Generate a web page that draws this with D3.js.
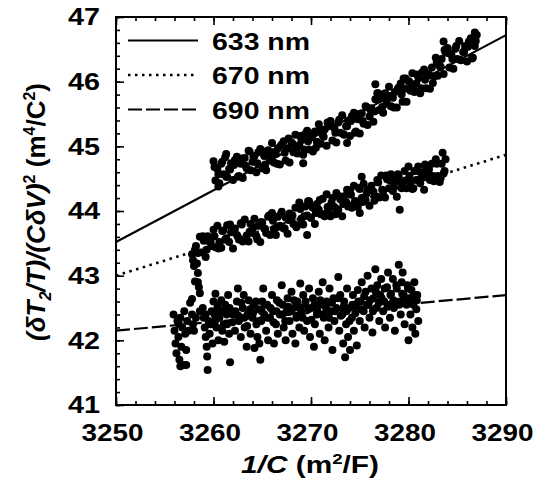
<!DOCTYPE html>
<html>
<head>
<meta charset="utf-8">
<script src="https://cdn.jsdelivr.net/npm/d3@7"></script>
<style>
  html, body { margin: 0; padding: 0; background: #fff; overflow: hidden; }
  svg { display: block; }
  text { font-family: "Liberation Sans", Arial, sans-serif; font-weight: bold; fill: #000; }
</style>
</head>
<body>
<div id="chart"></div>
<script>
// Data
const xTicks = [3250, 3260, 3270, 3280, 3290];
const yTicks = [41, 42, 43, 44, 45, 46, 47];
const legendLabels = ["633 nm", "670 nm", "690 nm"];

const fit633 = [[3250, 43.52], [3290, 46.72]];
const fit670 = [[3250, 43.0], [3290, 44.87]];
const fit690 = [[3250, 42.15], [3290, 42.70]];

const pts633 = [
[3260.0,44.77],[3260.2,44.47],[3260.4,44.65],[3260.6,44.43],[3260.8,44.73],[3261.0,44.57],[3261.2,44.83],[3261.4,44.53],
[3261.6,44.65],[3261.8,44.74],[3262.0,44.48],[3262.2,44.79],[3262.4,44.84],[3262.6,44.54],[3262.8,44.73],[3263.0,44.51],
[3263.2,44.82],[3263.4,44.66],[3263.6,44.93],[3263.8,44.63],[3264.0,44.76],[3264.2,44.85],[3264.4,44.60],[3264.6,44.91],
[3264.8,44.96],[3265.0,44.66],[3265.2,44.85],[3265.4,44.63],[3265.6,44.94],[3265.8,44.78],[3266.0,45.05],[3266.2,44.75],
[3266.4,44.88],[3266.6,44.97],[3266.8,44.72],[3267.0,45.03],[3267.2,45.08],[3267.4,44.78],[3267.6,44.97],[3267.8,44.75],
[3268.0,45.06],[3268.2,44.91],[3268.4,45.18],[3268.6,44.89],[3268.8,45.02],[3269.0,45.12],[3269.2,44.87],[3269.4,45.19],
[3269.6,45.24],[3269.8,44.95],[3270.0,45.14],[3270.2,44.92],[3270.4,45.23],[3270.6,45.07],[3270.8,45.34],[3271.0,45.04],
[3271.2,45.17],[3271.4,45.26],[3271.6,45.01],[3271.8,45.32],[3272.0,45.39],[3272.2,45.09],[3272.4,45.28],[3272.6,45.06],
[3272.8,45.37],[3273.0,45.21],[3273.2,45.48],[3273.4,45.18],[3273.6,45.31],[3273.8,45.40],[3274.0,45.16],[3274.2,45.47],
[3274.4,45.52],[3274.6,45.23],[3274.8,45.42],[3275.0,45.20],[3275.2,45.51],[3275.4,45.35],[3275.6,45.62],[3275.8,45.33],
[3276.0,45.46],[3276.2,45.59],[3276.4,45.38],[3276.6,45.73],[3276.8,45.82],[3277.0,45.56],[3277.2,45.74],[3277.4,45.52],
[3277.6,45.82],[3277.8,45.66],[3278.0,45.92],[3278.2,45.62],[3278.4,45.75],[3278.6,45.84],[3278.8,45.60],[3279.0,45.91],
[3279.2,45.97],[3279.4,45.69],[3279.6,45.89],[3279.8,45.69],[3280.0,46.01],[3280.2,45.86],[3280.4,46.13],[3280.6,45.84],
[3280.8,45.97],[3281.0,46.07],[3281.2,45.82],[3281.4,46.14],[3281.6,46.19],[3281.8,45.90],[3282.0,46.09],[3282.2,45.89],
[3282.4,46.22],[3282.6,46.08],[3282.8,46.37],[3283.0,46.09],[3283.2,46.24],[3283.4,46.35],[3283.6,46.12],[3283.8,46.45],
[3284.0,46.52],[3284.2,46.22],[3284.4,46.42],[3284.6,46.20],[3284.8,46.51],[3285.0,46.35],[3285.2,46.63],[3285.4,46.33],
[3285.6,46.46],[3285.8,46.55],[3286.0,46.31],[3286.2,46.62],[3286.4,46.67],[3286.6,46.37],[3286.8,46.55],[3287.0,46.72],
[3276.6,45.96],[3286.8,46.76],[3283.6,46.62],[3269.2,44.74],[3273.7,45.05],[3260.5,44.38],[3261.3,44.88],[3279.5,46.05],
[3260.1,44.68],[3260.5,44.57],[3260.9,44.76],[3261.3,44.53],[3261.7,44.64],[3262.1,44.71],[3262.5,44.53],[3262.9,44.81],
[3263.3,44.70],[3263.7,44.92],[3264.1,44.84],[3264.5,44.74],[3264.9,44.94],[3265.3,44.72],[3265.7,44.84],[3266.1,44.91],
[3266.5,44.73],[3266.9,45.01],[3267.3,44.90],[3267.7,45.12],[3268.1,45.04],[3268.5,44.95],[3268.9,45.16],[3269.3,44.95],
[3269.7,45.08],[3270.1,45.16],[3270.5,44.98],[3270.9,45.26],[3271.3,45.15],[3271.7,45.37],[3272.1,45.31],[3272.5,45.21],
[3272.9,45.41],[3273.3,45.19],[3273.7,45.31],[3274.1,45.39],[3274.5,45.21],[3274.9,45.50],[3275.3,45.39],[3275.7,45.61],
[3276.1,45.56],[3276.5,45.54],[3276.9,45.82],[3277.3,45.61],[3277.7,45.72],[3278.1,45.78],[3278.5,45.60],[3278.9,45.89],
[3279.3,45.80],[3279.7,46.05],[3280.1,45.99],[3280.5,45.90],[3280.9,46.11],[3281.3,45.90],[3281.7,46.03],[3282.1,46.12],
[3282.5,45.98],[3282.9,46.30],[3283.3,46.23],[3283.7,46.49],[3284.1,46.44],[3284.5,46.35],[3284.9,46.55],[3285.3,46.34],
[3285.7,46.46],[3286.1,46.54],[3286.5,46.36],[3286.9,46.63]
];

const pts670 = [
[3257.8,43.33],[3258.0,43.15],[3258.2,43.46],[3258.4,43.35],[3258.6,43.60],[3258.8,43.36],[3259.0,43.54],[3259.2,43.29],
[3259.4,43.61],[3259.6,43.52],[3259.8,43.46],[3260.0,43.71],[3260.2,43.44],[3260.4,43.77],[3260.6,43.52],[3260.8,43.43],
[3261.0,43.70],[3261.2,43.56],[3261.4,43.78],[3261.6,43.52],[3261.8,43.67],[3262.0,43.42],[3262.2,43.73],[3262.4,43.63],
[3262.6,43.56],[3262.8,43.81],[3263.0,43.53],[3263.2,43.87],[3263.4,43.62],[3263.6,43.53],[3263.8,43.80],[3264.0,43.66],
[3264.2,43.88],[3264.4,43.61],[3264.6,43.77],[3264.8,43.52],[3265.0,43.82],[3265.2,43.73],[3265.4,43.66],[3265.6,43.91],
[3265.8,43.63],[3266.0,43.97],[3266.2,43.72],[3266.4,43.63],[3266.6,43.91],[3266.8,43.77],[3267.0,43.99],[3267.2,43.73],
[3267.4,43.90],[3267.6,43.65],[3267.8,43.96],[3268.0,43.87],[3268.2,43.80],[3268.4,44.05],[3268.6,43.78],[3268.8,44.13],
[3269.0,43.88],[3269.2,43.79],[3269.4,44.07],[3269.6,43.93],[3269.8,44.15],[3270.0,43.89],[3270.2,44.05],[3270.4,43.80],
[3270.6,44.11],[3270.8,44.02],[3271.0,43.95],[3271.2,44.19],[3271.4,43.92],[3271.6,44.26],[3271.8,44.01],[3272.0,43.92],
[3272.2,44.20],[3272.4,44.06],[3272.6,44.28],[3272.8,44.02],[3273.0,44.18],[3273.2,43.92],[3273.4,44.23],[3273.6,44.14],
[3273.8,44.07],[3274.0,44.32],[3274.2,44.05],[3274.4,44.39],[3274.6,44.15],[3274.8,44.06],[3275.0,44.34],[3275.2,44.20],
[3275.4,44.42],[3275.6,44.17],[3275.8,44.33],[3276.0,44.08],[3276.2,44.39],[3276.4,44.30],[3276.6,44.23],[3276.8,44.48],
[3277.0,44.21],[3277.2,44.55],[3277.4,44.30],[3277.6,44.21],[3277.8,44.49],[3278.0,44.35],[3278.2,44.57],[3278.4,44.31],
[3278.6,44.47],[3278.8,44.22],[3279.0,44.53],[3279.2,44.44],[3279.4,44.37],[3279.6,44.62],[3279.8,44.35],[3280.0,44.69],
[3280.2,44.44],[3280.4,44.34],[3280.6,44.62],[3280.8,44.48],[3281.0,44.69],[3281.2,44.43],[3281.4,44.59],[3281.6,44.33],
[3281.8,44.64],[3282.0,44.55],[3282.2,44.48],[3282.4,44.73],[3282.6,44.46],[3282.8,44.80],[3283.0,44.54],[3283.2,44.45],
[3283.4,44.73],[3283.6,44.58],[3283.8,44.80],[3283.5,44.90],[3275.2,44.53],[3279.1,44.02],[3275.0,43.97],[3269.6,43.63],
[3257.9,43.24],[3258.3,43.19],[3258.4,43.04],[3258.1,42.91],[3258.4,42.90],[3258.6,42.73],[3258.5,42.82],
[3258.1,43.40],[3258.5,43.36],[3258.9,43.61],[3259.3,43.40],[3259.7,43.53],[3260.1,43.61],[3260.5,43.42],[3260.9,43.69],
[3261.3,43.58],[3261.7,43.79],[3262.1,43.71],[3262.5,43.60],[3262.9,43.79],[3263.3,43.57],[3263.7,43.68],[3264.1,43.75],
[3264.5,43.56],[3264.9,43.83],[3265.3,43.72],[3265.7,43.93],[3266.1,43.85],[3266.5,43.75],[3266.9,43.95],[3267.3,43.73],
[3267.7,43.86],[3268.1,43.93],[3268.5,43.75],[3268.9,44.03],[3269.3,43.92],[3269.7,44.15],[3270.1,44.07],[3270.5,43.97],
[3270.9,44.17],[3271.3,43.94],[3271.7,44.06],[3272.1,44.13],[3272.5,43.95],[3272.9,44.23],[3273.3,44.11],[3273.7,44.33],
[3274.1,44.25],[3274.5,44.15],[3274.9,44.36],[3275.3,44.14],[3275.7,44.27],[3276.1,44.34],[3276.5,44.16],[3276.9,44.44],
[3277.3,44.33],[3277.7,44.55],[3278.1,44.47],[3278.5,44.37],[3278.9,44.57],[3279.3,44.35],[3279.7,44.47],[3280.1,44.54],
[3280.5,44.35],[3280.9,44.62],[3281.3,44.51],[3281.7,44.72],[3282.1,44.64],[3282.5,44.54],[3282.9,44.73],[3283.3,44.51],
[3283.7,44.62]
];

const pts690 = [
[3255.9,42.40],[3256.0,42.15],[3256.1,41.95],[3256.2,41.80],[3256.3,42.30],[3256.4,42.05],[3256.5,41.70],[3256.6,42.35],
[3256.7,41.90],[3256.8,42.20],[3256.9,41.62],[3257.0,42.45],[3257.1,42.10],[3257.2,41.85],[3257.3,42.30],[3256.6,41.60],
[3257.2,41.62],[3257.6,42.58],[3257.8,42.40],[3257.9,42.25],[3258.0,42.15],[3258.2,42.35],[3257.8,42.64],
[3258.9,42.50],[3259.0,42.35],[3259.1,42.20],[3259.2,42.05],[3259.3,41.90],[3259.35,41.75],[3259.4,41.54],[3259.5,42.30],
[3259.6,42.10],[3259.8,42.45],[3259.9,41.95],
[3260.0,42.60],[3260.1,42.40],[3260.2,42.72],[3260.3,42.20],[3260.4,42.50],[3260.5,42.00],[3260.6,42.35],[3260.8,42.62],
[3260.9,42.15],[3261.0,42.45],[3261.1,41.98],[3261.2,42.55],[3261.4,42.25],[3261.5,42.70],[3261.6,42.10],[3261.7,41.66],
[3262.0,42.40],[3262.2,42.15],[3262.4,42.60],[3262.5,42.80],[3262.6,42.30],[3262.8,42.05],[3263.0,42.50],[3263.1,42.70],
[3263.2,42.20],[3263.4,41.90],[3263.5,42.40],[3263.6,42.62],[3263.8,42.10],[3264.0,42.35],[3264.1,42.55],[3264.2,41.88],
[3264.4,42.25],[3264.5,42.05],[3264.6,42.48],[3264.8,41.70],[3264.7,41.95],[3264.9,42.30],
[3265.0,42.60],[3265.1,42.80],[3265.2,42.40],[3265.4,42.15],[3265.5,42.55],[3265.6,42.00],[3265.8,42.35],[3266.0,42.70],
[3266.1,42.45],[3266.2,41.95],[3266.4,42.25],[3266.5,42.62],[3266.6,42.10],[3266.8,42.40],[3267.0,42.85],[3267.1,42.55],
[3267.2,42.20],[3267.4,42.00],[3267.5,42.45],[3267.6,42.65],[3267.8,42.30],[3268.0,42.75],[3268.1,42.10],[3268.2,42.50],
[3268.4,41.95],[3268.5,42.35],[3268.6,42.60],[3268.8,42.20],[3268.9,42.88],
[3269.0,42.45],[3269.2,42.70],[3269.3,42.15],[3269.4,42.55],[3269.6,42.30],[3269.8,42.80],[3269.9,42.05],[3270.0,42.50],
[3270.2,42.65],[3270.3,41.90],[3270.4,42.25],[3270.6,42.40],[3270.8,42.75],[3270.9,42.10],[3271.0,42.55],[3271.2,42.90],
[3271.3,42.35],[3271.4,42.00],[3271.6,42.60],[3271.8,42.20],[3271.9,42.80],[3272.0,42.45],[3272.2,41.85],[3272.3,42.65],
[3272.4,42.30],[3272.6,42.50],[3272.8,42.98],[3272.9,42.15],[3273.0,42.70],
[3273.2,42.40],[3273.3,41.95],[3273.4,42.60],[3273.5,41.74],[3273.6,42.25],[3273.7,42.80],[3273.8,42.05],[3273.9,42.50],
[3274.0,41.85],[3274.2,42.35],[3274.3,42.70],[3274.4,42.15],[3274.6,42.55],[3274.7,41.92],[3274.8,42.78],[3275.0,42.30],
[3275.1,42.60],[3275.2,42.90],[3275.4,42.45],[3275.5,42.20],[3275.6,42.75],[3275.8,43.00],[3275.9,42.55],[3276.0,42.35],
[3276.2,42.80],[3276.3,42.12],[3276.4,42.65],[3276.6,43.10],[3276.7,42.50],[3276.8,42.85],[3277.0,42.30],[3277.1,42.70],
[3277.2,42.95],[3277.4,42.45],[3277.5,42.60],[3277.6,42.20],[3277.8,42.82],[3277.9,43.05],[3278.0,42.55],
[3278.1,42.35],[3278.2,42.72],[3278.4,42.95],[3278.5,42.50],[3278.6,42.15],[3278.8,42.80],[3279.0,43.17],[3279.1,42.60],
[3279.2,42.40],[3279.3,42.90],[3279.4,43.05],[3279.5,42.70],[3279.6,42.25],[3279.8,42.55],[3279.9,42.85],[3280.0,42.00],
[3280.1,42.65],[3280.2,42.40],[3280.3,42.78],[3280.4,42.20],[3280.5,42.55],[3280.6,42.90],[3280.7,42.10],[3280.8,42.48],
[3280.9,42.70],[3281.0,42.30],
[3260.15,42.30],[3260.45,42.55],[3260.75,42.45],[3261.05,42.25],[3261.35,42.40],[3261.65,42.50],[3261.95,42.28],[3262.25,42.45],
[3262.55,42.38],[3262.85,42.58],[3263.15,42.35],[3263.45,42.22],[3263.75,42.48],[3264.05,42.42],[3264.35,42.60],[3264.65,42.30],
[3264.95,42.45],[3265.25,42.55],[3265.55,42.35],[3265.85,42.50],[3266.15,42.28],[3266.45,42.45],[3266.75,42.58],[3267.05,42.40],
[3267.35,42.30],[3267.65,42.52],[3267.95,42.45],[3268.25,42.62],[3268.55,42.38],[3268.85,42.50],[3269.15,42.35],[3269.45,42.60],
[3269.75,42.48],[3270.05,42.32],[3270.35,42.55],[3270.65,42.45],[3270.95,42.62],[3271.25,42.40],[3271.55,42.50],[3271.85,42.35],
[3272.15,42.58],[3272.45,42.45],[3272.75,42.65],[3273.05,42.38],[3273.35,42.52],[3273.65,42.45],[3273.95,42.30],[3274.25,42.55],
[3274.55,42.42],[3274.85,42.60],[3275.15,42.48],[3275.45,42.68],[3275.75,42.55],[3276.05,42.62],[3276.35,42.45],[3276.65,42.75],
[3276.95,42.58],[3277.25,42.65],[3277.55,42.80],[3277.85,42.52],[3278.15,42.70],[3278.45,42.62],[3278.75,42.85],[3279.05,42.55],
[3279.35,42.72],[3279.65,42.65],[3279.95,42.80],[3280.25,42.58],[3280.55,42.70],[3280.85,42.62],[3257.45,42.15],[3256.45,42.25],
[3258.6,42.45],[3259.2,42.40],[3259.7,42.25]
];

// Layout
const w = 538;
const h = 501;
const margin = {top: 17, right: 32, bottom: 96, left: 116};
const innerWidth = w - margin.left - margin.right;
const innerHeight = h - margin.top - margin.bottom;

const xScale = d3.scaleLinear()
    .domain([3250, 3290])
    .range([0, innerWidth]);

const yScale = d3.scaleLinear()
    .domain([41, 47])
    .range([innerHeight, 0]);

const svg = d3.select("div#chart")
  .append("svg")
    .attr("width", w)
    .attr("height", h);

const plot = svg.append("g")
    .attr("transform", `translate(${margin.left}, ${margin.top})`);

// minor ticks (inward), bottom/top every 2, left every 0.2
const xMinor = d3.range(3250, 3291, 2);
const yMinor = d3.range(0, 31).map(i => 41 + i * 0.2);

plot.append("g")
    .attr("transform", `translate(0, ${innerHeight})`)
    .call(d3.axisBottom(xScale).tickValues(xMinor).tickSize(-4).tickFormat(""));
plot.append("g")
    .call(d3.axisTop(xScale).tickValues(xMinor).tickSize(-4).tickFormat(""));
plot.append("g")
    .call(d3.axisLeft(yScale).tickValues(yMinor).tickSize(-4).tickFormat(""));
plot.selectAll(".tick text").remove();

// major ticks + labels
const xAxis = plot.append("g")
    .attr("class", "xAxis")
    .attr("transform", `translate(0, ${innerHeight})`)
    .call(d3.axisBottom(xScale).tickValues(xTicks).tickSize(-8).tickPadding(19).tickFormat(d3.format("d")));
const topAxis = plot.append("g")
    .call(d3.axisTop(xScale).tickValues(xTicks).tickSize(-8).tickFormat(""));
topAxis.selectAll(".tick text").remove();
const yAxis = plot.append("g")
    .attr("class", "yAxis")
    .call(d3.axisLeft(yScale).tickValues(yTicks).tickSize(-8).tickFormat(d3.format("d")));

plot.selectAll(".domain").remove();
plot.selectAll(".tick line").attr("stroke", "#000").attr("stroke-width", 1.6);
plot.selectAll(".tick text")
    .attr("fill", "#000")
    .style("font-size", "24px")
    .style("font-family", "'Liberation Sans', Arial, sans-serif")
    .style("font-weight", "bold");
xAxis.selectAll(".tick text")
    .attr("x", -4)
    .attr("textLength", 62)
    .attr("lengthAdjust", "spacingAndGlyphs");
yAxis.selectAll(".tick text")
    .attr("x", -16)
    .attr("textLength", 32)
    .attr("lengthAdjust", "spacingAndGlyphs");

// fit lines
const line = d3.line()
    .x(d => xScale(d[0]))
    .y(d => yScale(d[1]));

const styles = [
  {data: fit633, dash: null, width: 2.2},
  {data: fit670, dash: "2.5,4.5", width: 2.6},
  {data: fit690, dash: "14,4", width: 2.2}
];

plot.selectAll("path.fit")
  .data(styles)
  .enter().append("path")
    .attr("class", "fit")
    .attr("d", d => line(d.data))
    .attr("fill", "none")
    .attr("stroke", "#000")
    .attr("stroke-width", d => d.width)
    .attr("stroke-dasharray", d => d.dash);

// points
const allPts = pts633.concat(pts670, pts690);
plot.append("g")
  .selectAll("circle")
  .data(allPts)
  .enter().append("circle")
    .attr("cx", d => xScale(d[0]))
    .attr("cy", d => yScale(d[1]))
    .attr("r", 4)
    .attr("fill", "#000");

// frame
plot.append("rect")
    .attr("width", innerWidth)
    .attr("height", innerHeight)
    .attr("fill", "none")
    .attr("stroke", "#000")
    .attr("stroke-width", 2);

// legend
const legend = svg.append("g")
    .attr("transform", "translate(128, 40.5)");
legendLabels.forEach((lab, i) => {
  const row = legend.append("g").attr("transform", `translate(0, ${i * 34.5})`);
  row.append("line")
      .attr("x1", 0).attr("x2", 70)
      .attr("stroke", "#000")
      .attr("stroke-width", styles[i].width)
      .attr("stroke-dasharray", styles[i].dash);
  row.append("text")
      .attr("x", 84)
      .attr("y", 9)
      .attr("textLength", 98)
      .attr("lengthAdjust", "spacingAndGlyphs")
      .style("font-size", "24px")
      .text(lab);
});

// x label
const xl = svg.append("text")
    .attr("x", 310)
    .attr("y", 473)
    .attr("text-anchor", "middle")
    .attr("textLength", 138)
    .attr("lengthAdjust", "spacingAndGlyphs")
    .style("font-size", "24px");
xl.append("tspan").style("font-style", "italic").text("1/C");
xl.append("tspan").text(" (m");
xl.append("tspan").attr("dy", -9).style("font-size", "15px").text("2");
xl.append("tspan").attr("dy", 9).text("/F)");

// y label: start-anchored, then moved so it is centred on y = 212
const yLabelG = svg.append("g");
const yl = yLabelG.append("text")
    .attr("x", 0)
    .attr("y", 0)
    .style("font-size", "26px");
yl.append("tspan").style("font-style", "italic").text("(δT");
yl.append("tspan").attr("dy", 6).style("font-style", "italic").style("font-size", "16px").text("2");
yl.append("tspan").attr("dy", -6).style("font-style", "italic").text("/T)/(CδV)");
yl.append("tspan").attr("dy", -10).style("font-size", "16px").text("2");
yl.append("tspan").attr("dy", 10).text(" (m");
yl.append("tspan").attr("dy", -10).style("font-size", "16px").text("4");
yl.append("tspan").attr("dy", 10).text("/C");
yl.append("tspan").attr("dy", -10).style("font-size", "16px").text("2");
yl.append("tspan").attr("dy", 10).text(")");
const yLen = yl.node().getComputedTextLength();
yLabelG.attr("transform", `translate(45, ${212 + yLen / 2}) rotate(-90)`);
</script>
</body>
</html>
